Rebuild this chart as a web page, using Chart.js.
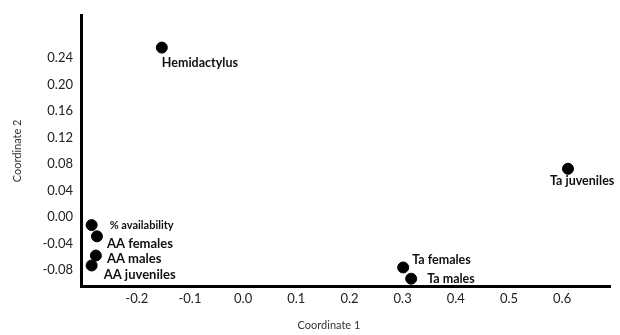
<!DOCTYPE html>
<html>
<head>
<meta charset="utf-8">
<script src="https://cdn.jsdelivr.net/npm/chart.js@4"></script>
<style>
  body { margin: 0; background: #fff; }
</style>
</head>
<body>
<canvas id="myChart" width="620" height="335"></canvas>
<script>
// data
var names = ['Hemidactylus', '% availability', 'AA females', 'AA males', 'AA juveniles', 'Ta females', 'Ta males', 'Ta juveniles'];
var coord1 = [-0.153, -0.285, -0.275, -0.277, -0.285, 0.301, 0.316, 0.611];
var coord2 = [0.256, -0.012, -0.029, -0.058, -0.073, -0.076, -0.093, 0.073];
var xTicks = [-0.2, -0.1, 0.0, 0.1, 0.2, 0.3, 0.4, 0.5, 0.6];
var yTicks = [-0.08, -0.04, 0.00, 0.04, 0.08, 0.12, 0.16, 0.20, 0.24];

// where each label sits relative to its dot (px)
var labelOffsets = [[0, 15], [18, 0], [10, 7], [11, 3], [12, 9], [9, -7], [16, 0], [-18, 12]];
var labelSizes = [12.5, 11, 13, 13, 13, 12.5, 12.5, 12.5];

var pointLabels = {
    id: 'pointLabels',
    afterDatasetsDraw: function(chart) {
        var ctx = chart.ctx;
        var meta = chart.getDatasetMeta(0);
        ctx.save();
        ctx.fillStyle = '#111';
        ctx.textAlign = 'left';
        ctx.textBaseline = 'middle';
        meta.data.forEach(function(pt, i) {
            ctx.font = 'bold ' + labelSizes[i] + 'px Lato';
            ctx.fillText(names[i], pt.x + labelOffsets[i][0], pt.y + labelOffsets[i][1]);
        });
        // x axis title sits a bit left of the axis centre
        ctx.font = '11px Lato';
        ctx.fillStyle = '#333';
        ctx.textAlign = 'center';
        ctx.fillText('Coordinate 1', 329, 325);
        ctx.restore();
    }
};

var ctx = document.getElementById('myChart').getContext('2d');
var chart = new Chart(ctx, {
    type: 'scatter',
    data: {
        datasets: [{
            label: 'PCoA',
            data: names.map(function(n, i) { return {x: coord1[i], y: coord2[i]}; }),
            backgroundColor: '#000',
            borderColor: '#000',
            pointRadius: 5.5,
            pointHoverRadius: 5.5
        }]
    },
    options: {
        responsive: false,
        animation: false,
        layout: { padding: { top: 11, right: 10, left: 0, bottom: 0 } },
        plugins: {
            legend: { display: false },
            tooltip: { enabled: false }
        },
        scales: {
            x: {
                type: 'linear',
                min: -0.305,
                max: 0.69,
                afterBuildTicks: function(scale) {
                    scale.ticks = xTicks.map(function(v) { return {value: v}; });
                },
                afterFit: function(scale) { scale.height = 49; },
                grid: { display: false, drawTicks: false },
                border: { display: true, color: '#000', width: 3 },
                ticks: {
                    padding: 5,
                    color: '#222',
                    font: { family: 'Lato', size: 13 },
                    maxRotation: 0,
                    callback: function(v) { return v.toFixed(1); }
                }
            },
            y: {
                type: 'linear',
                min: -0.104,
                max: 0.304,
                afterBuildTicks: function(scale) {
                    scale.ticks = yTicks.map(function(v) { return {value: v}; });
                },
                afterFit: function(scale) { scale.width = 81; },
                grid: { display: false, drawTicks: false },
                border: { display: true, color: '#000', width: 3 },
                title: {
                    display: true,
                    text: 'Coordinate 2',
                    color: '#333',
                    font: { family: 'Lato', size: 11 },
                    padding: { top: 11, bottom: 0 }
                },
                ticks: {
                    padding: 8,
                    color: '#222',
                    font: { family: 'Lato', size: 13 },
                    callback: function(v) { return v.toFixed(2); }
                }
            }
        }
    },
    plugins: [pointLabels]
});
</script>
</body>
</html>
